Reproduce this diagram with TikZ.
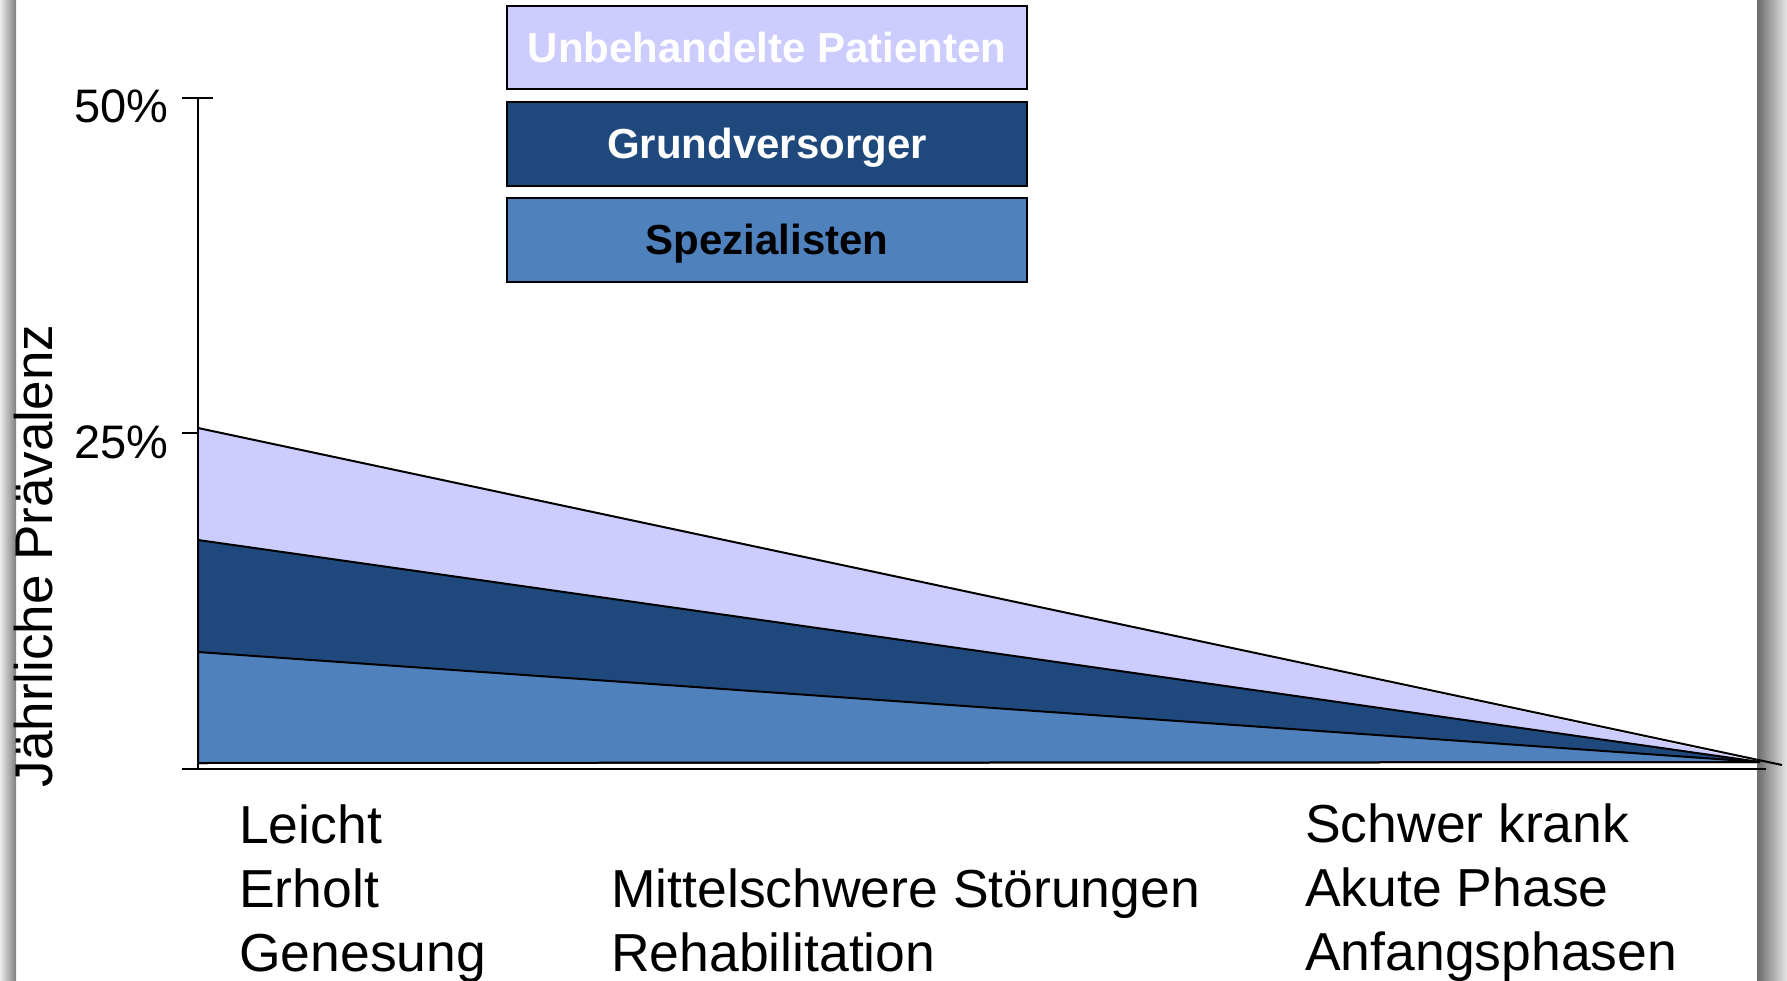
\documentclass[tikz,border=0pt]{standalone}
\usepackage{fontspec}
\setmainfont{Liberation Sans}
\definecolor{lav}{HTML}{CCCCFF}
\definecolor{dkblue}{HTML}{1F497D}
\definecolor{mdblue}{HTML}{4F81BD}
\tikzset{
  legbox/.style={draw=black, line width=2pt, minimum width=520pt, minimum height=83pt, inner sep=0pt,
    text height=30pt, text depth=0pt,
    font=\fontsize{42}{50}\selectfont\bfseries},
  band/.style={draw=black, line width=2pt, line join=miter},
  axisline/.style={draw=black, line width=2pt},
  bigtext/.style={inner sep=0pt, font=\fontsize{53.5}{64}\selectfont, align=left, anchor=base west},
  pcttext/.style={inner sep=0pt, font=\fontsize{47}{54}\selectfont, anchor=base east}
}
\begin{document}
\begin{tikzpicture}[x=1pt,y=-1pt]
\useasboundingbox (0,0) rectangle (1787,981);
% side shadows
\shade[left color=black!8, right color=black!50] (0,0) rectangle (16,981);
\shade[left color=black!58, right color=black!10] (1757,0) rectangle (1787,981);

% key points
\coordinate (apex) at (1760,762);
\coordinate (base) at (198,763);
\coordinate (t1) at (198,428);
\coordinate (t2) at (198,540);
\coordinate (t3) at (198,652);
\coordinate (tipend) at (1782,765);

% bands
\fill[lav] (t1) -- (apex) -- (base) -- cycle;
\draw[band] (t1) -- (tipend);
\filldraw[band, fill=dkblue] (t2) -- (apex) -- (base) -- cycle;
\filldraw[band, fill=mdblue] (t3) -- (apex) -- (base) -- cycle;

% axes
\coordinate (ytop) at (198,98);
\coordinate (yzero) at (198,769);
\coordinate (xend) at (1766,769);
\draw[axisline] (ytop) -- (yzero);
\draw[axisline] (182,769) -- (xend);
\draw[axisline] (182,98) -- (213,98);
\draw[axisline] (182,433) -- (198,433);

% tick labels
\node[pcttext] (p50) at (169,123) {50\%};
\node[pcttext] (p25) at (169,458) {25\%};

% y label
\node[inner sep=0pt, font=\fontsize{53}{64}\selectfont, rotate=90, anchor=base] (ylab) at (52,556) {Jährliche Prävalenz};

% legend
\node[legbox, fill=lav, text=white] (leg1) at (767,47.5) {Unbehandelte Patienten};
\node[legbox, fill=dkblue, text=white, minimum height=84pt] (leg2) at (767,144) {Grundversorger};
\node[legbox, fill=mdblue, text=black, minimum height=84pt] (leg3) at (767,240) {Spezialisten};

% bottom labels (anchored at the baseline of the last line)
\node[bigtext] (txtL) at (239,971) {Leicht\\Erholt\\Genesung};
\node[bigtext] (txtM) at (611,971) {Mittelschwere Störungen\\Rehabilitation};
\node[bigtext] (txtR) at (1305,970) {Schwer krank\\Akute Phase\\Anfangsphasen};
\end{tikzpicture}
\end{document}
